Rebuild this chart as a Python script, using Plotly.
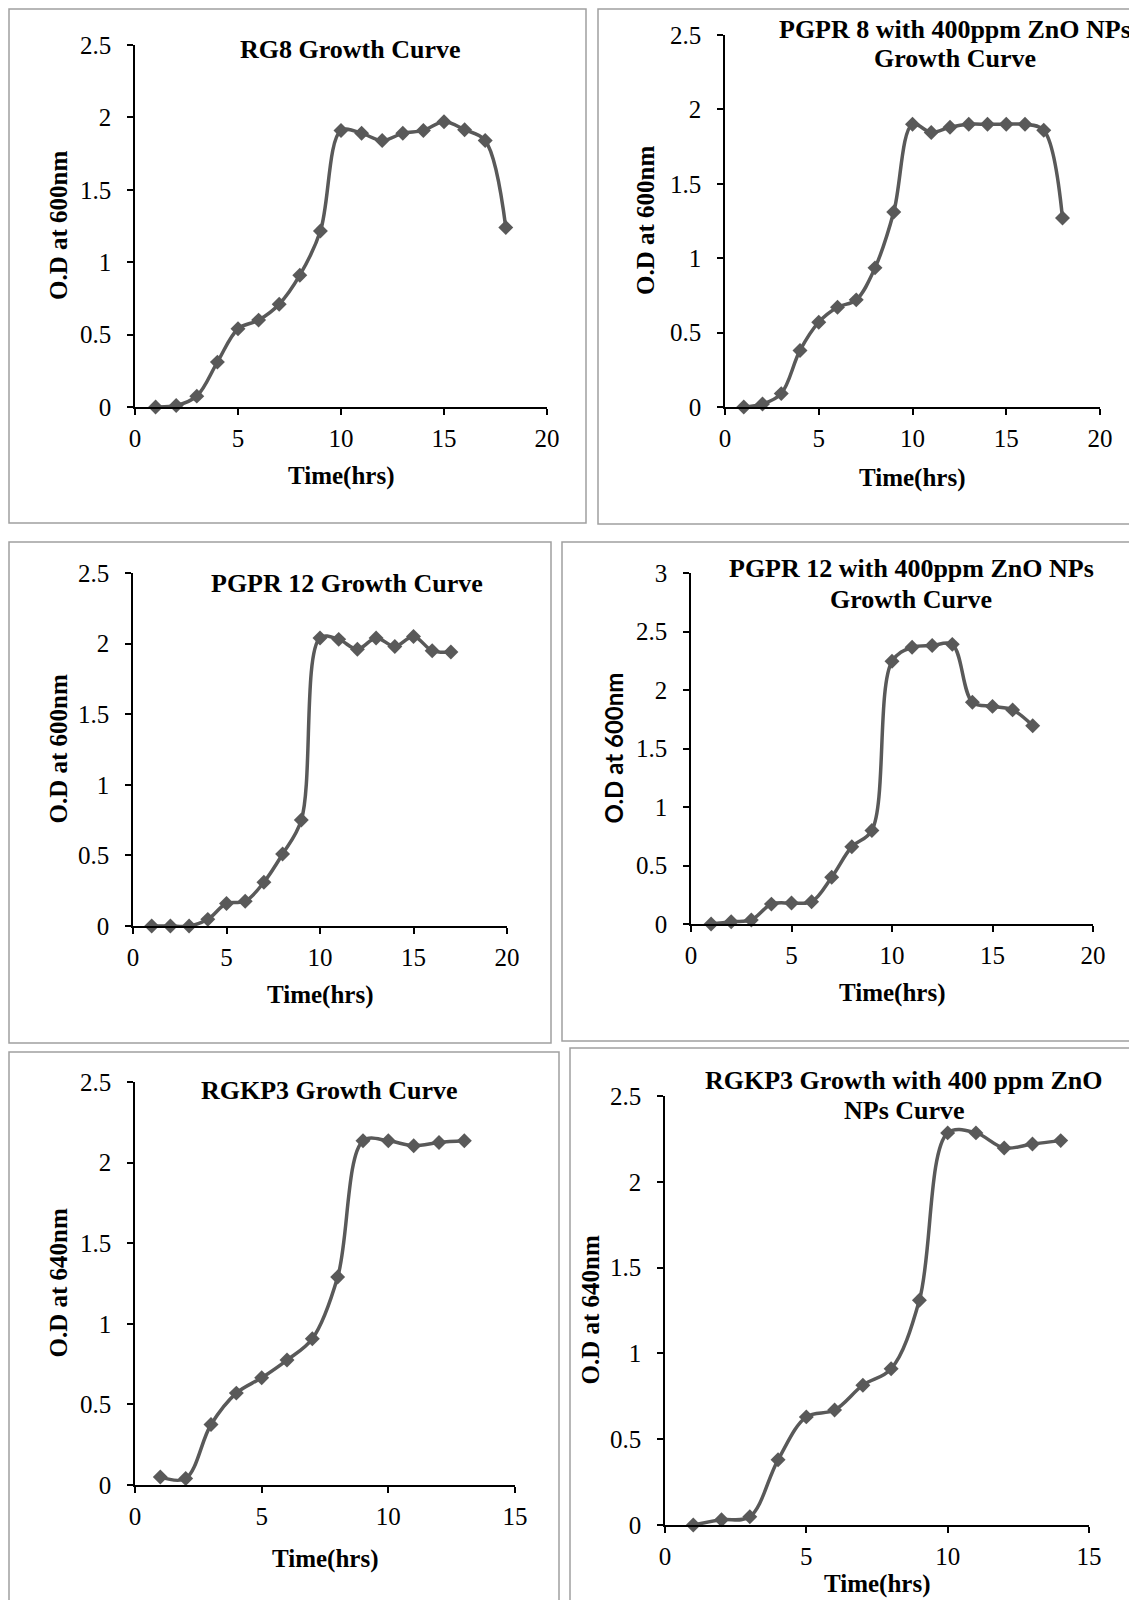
import plotly.graph_objects as go

W, H = 1137, 1600
OFF = 8  # page body margin of the html page

# ---------------- data ----------------
hours_18 = list(range(1, 19))
hours_17 = list(range(1, 18))
hours_13 = list(range(1, 14))
hours_14 = list(range(1, 15))

rg8_od = [0.0, 0.01, 0.075, 0.31, 0.54, 0.60, 0.71, 0.91, 1.215, 1.91, 1.89, 1.84,
          1.89, 1.91, 1.97, 1.915, 1.84, 1.24]
pgpr8_zno_od = [0.0, 0.02, 0.09, 0.38, 0.57, 0.67, 0.72, 0.935, 1.31, 1.90, 1.845, 1.88,
                1.90, 1.90, 1.90, 1.90, 1.86, 1.27]
pgpr12_od = [0.0, 0.0, 0.0, 0.047, 0.16, 0.175, 0.31, 0.51, 0.75, 2.04, 2.03, 1.96,
             2.04, 1.98, 2.05, 1.95, 1.94]
pgpr12_zno_od = [0.0, 0.02, 0.035, 0.17, 0.18, 0.19, 0.40, 0.66, 0.80, 2.245, 2.365,
                 2.38, 2.39, 1.895, 1.86, 1.83, 1.695]
rgkp3_od = [0.05, 0.04, 0.375, 0.57, 0.665, 0.775, 0.907, 1.29, 2.135, 2.135, 2.105,
            2.125, 2.135]
rgkp3_zno_od = [0.0, 0.03, 0.048, 0.38, 0.63, 0.67, 0.815, 0.91, 1.31, 2.285, 2.285,
                2.197, 2.22, 2.24]

titles = [
    ["RG8 Growth Curve"],
    ["PGPR 8 with 400ppm ZnO NPs", "Growth Curve"],
    ["PGPR 12 Growth Curve"],
    ["PGPR 12 with 400ppm ZnO NPs", "Growth Curve"],
    ["RGKP3 Growth Curve"],
    ["RGKP3 Growth with 400 ppm ZnO", "NPs Curve"],
]
y_titles = ["O.D at 600nm", "O.D at 600nm", "O.D at 600nm", "O.D at 600nm",
            "O.D at 640nm", "O.D at 640nm"]
x_title = "Time(hrs)"
x_max = [20, 20, 20, 20, 15, 15]
y_max = [2.5, 2.5, 2.5, 3, 2.5, 2.5]

series = [(hours_18, rg8_od), (hours_18, pgpr8_zno_od), (hours_17, pgpr12_od),
          (hours_17, pgpr12_zno_od), (hours_13, rgkp3_od), (hours_14, rgkp3_zno_od)]

# ---------------- layout (page pixel geometry) ----------------
areas = [
    (135, 547, 45, 407),
    (725, 1100, 35, 407),
    (133, 507, 573, 926),
    (691, 1093, 573, 924),
    (135, 515, 1082, 1485),
    (665, 1089, 1096, 1525),
]
borders = [
    (9, 9, 586, 523),
    (598, 9, 1136, 524),
    (9, 542, 551, 1043),
    (562, 542, 1136, 1041),
    (9, 1052, 559, 1604),
    (570, 1048, 1139, 1604),
]
title_pos = [
    [(350, 49)],
    [(955, 29), (955, 59)],
    [(347, 583)],
    [(911, 568), (911, 599)],
    [(329, 1090)],
    [(904, 1080), (904, 1110)],
]
ytitle_x = [59, 646, 58, 613, 58, 590]
xtitle_y = [476, 478, 995, 993, 1559, 1584]

SERIF = "Liberation Serif, Times New Roman, serif"
SANS = "Lato, Liberation Sans, sans-serif"
GRAY = "#595959"


def fx(x):
    return (x - OFF) / W


def fy(y):
    return 1 - (y - OFF) / H


fig = go.Figure()
annotations = []
shapes = []

for i in range(6):
    n = "" if i == 0 else str(i + 1)
    xs, ys = series[i]
    fig.add_trace(go.Scatter(
        x=xs, y=ys, mode="lines+markers",
        line=dict(color=GRAY, width=3.5, shape="spline", smoothing=1.0),
        marker=dict(symbol="diamond", size=11.5, color=GRAY),
        xaxis="x" + n, yaxis="y" + n, cliponaxis=False, showlegend=False,
    ))
    x0, x1, yt, yb = areas[i]
    common = dict(
        showline=True, linecolor="black", linewidth=1.5,
        ticks="outside", ticklen=6, tickwidth=1.5, tickcolor="black",
        showgrid=False, zeroline=False, automargin=False,
        tickfont=dict(family=SERIF, size=25, color="black"),
    )
    fig.update_layout(**{
        "xaxis" + n: dict(domain=[fx(x0), fx(x1)], range=[0, x_max[i]], dtick=5,
                          anchor="y" + n, ticklabelstandoff=2, **common),
        "yaxis" + n: dict(domain=[fy(yb), fy(yt)], range=[0, y_max[i]], dtick=0.5,
                          anchor="x" + n, ticklabelstandoff=11, **common),
    })
    for line, (tx, ty) in zip(titles[i], title_pos[i]):
        annotations.append(dict(
            text="<b>" + line + "</b>", x=fx(tx), y=fy(ty), xref="paper", yref="paper",
            xanchor="center", yanchor="middle", showarrow=False,
            font=dict(family=SERIF, size=26, color="black")))
    yfont = dict(family=SERIF, size=25, color="black")
    if i == 3:
        yfont = dict(family=SANS, size=24, color="black")
    annotations.append(dict(
        text="<b>" + y_titles[i] + "</b>", x=fx(ytitle_x[i]), y=fy((yt + yb) / 2),
        xref="paper", yref="paper", xanchor="center", yanchor="middle",
        textangle=-90, showarrow=False, font=yfont))
    annotations.append(dict(
        text="<b>" + x_title + "</b>", x=fx((x0 + x1) / 2), y=fy(xtitle_y[i]),
        xref="paper", yref="paper", xanchor="center", yanchor="middle",
        showarrow=False, font=dict(family=SERIF, size=25, color="black")))
    bl, bt, br, bb = borders[i]
    shapes.append(dict(type="rect", xref="paper", yref="paper",
                       x0=fx(bl), x1=fx(br), y0=fy(bb), y1=fy(bt),
                       line=dict(color="#a0a0a0", width=1.5), layer="below"))

fig.update_layout(
    width=W, height=H, autosize=False, margin=dict(l=0, r=0, t=0, b=0, pad=0),
    paper_bgcolor="white", plot_bgcolor="rgba(0,0,0,0)",
    annotations=annotations, shapes=shapes, showlegend=False,
)

fig.write_html("out.html")
